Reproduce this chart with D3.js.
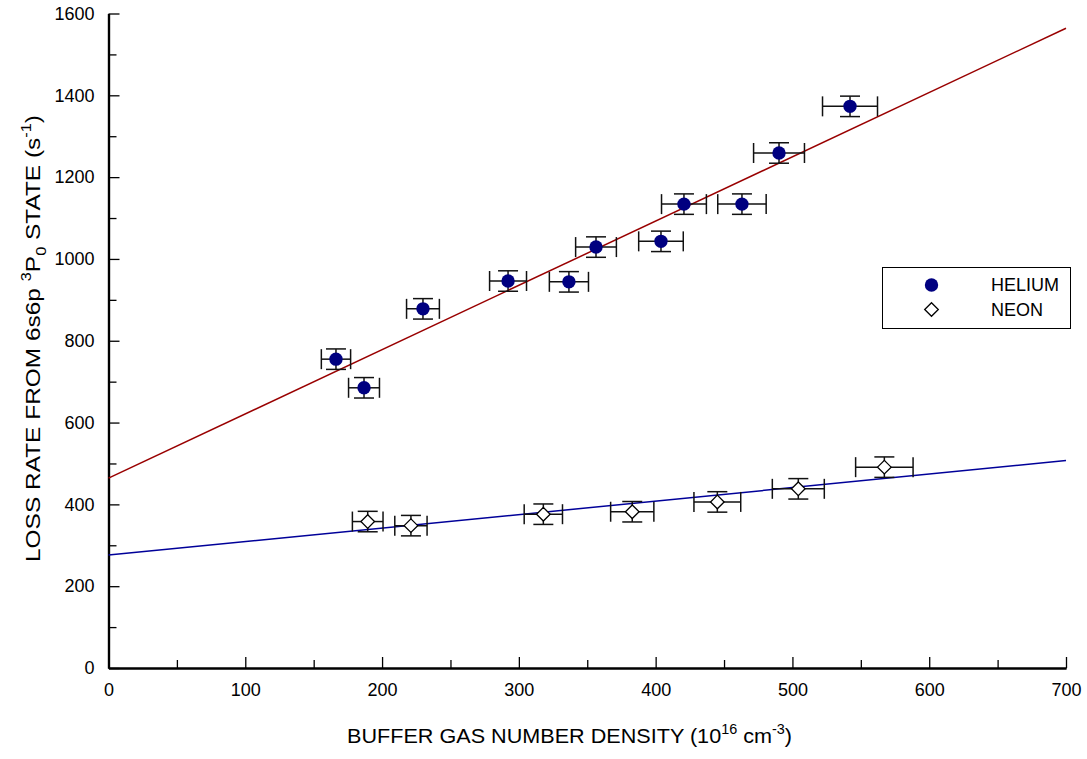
<!DOCTYPE html>
<html>
<head>
<meta charset="utf-8">
<script src="https://cdn.jsdelivr.net/npm/d3@7"></script>
<style>
  html, body { margin: 0; padding: 0; background: #fff; }
  svg { display: block; font-family: "Liberation Sans", Arial, sans-serif; }
</style>
</head>
<body>
<svg id="chart" width="1087" height="759"></svg>
<script>
// ---- Data ----
const heliumX   = [166.3, 186.8, 229.9, 292.1, 336.6, 356.4, 403.9, 420.7, 463.1, 490.2, 542.1];
const heliumY   = [755, 685, 878, 946, 944, 1029, 1043, 1134, 1134, 1259, 1373];
const heliumXErr = [10.7, 11.3, 12.0, 13.5, 14.3, 14.9, 16.3, 16.4, 17.7, 18.6, 20.1];
const heliumYErr = [25, 25, 25, 25, 25, 25, 25, 25, 25, 25, 25];

const neonX    = [189.5, 221.1, 317.9, 382.9, 445.1, 504.3, 567.2];
const neonY    = [358, 348, 376, 382, 406, 438, 491];
const neonXErr = [11.2, 11.8, 14.0, 15.8, 17.1, 19.0, 21.0];
const neonYErr = [25, 25, 25, 25, 25, 25, 25];

// Linear fit lines (endpoints at x = 0 and x = 700)
const heliumFitX = [0, 700];
const heliumFitY = [464, 1564];
const neonFitX   = [0, 700];
const neonFitY   = [276, 507];

const xMajorTicks = [0, 100, 200, 300, 400, 500, 600, 700];
const xMinorTicks = [50, 150, 250, 350, 450, 550, 650];
const yMajorTicks = [0, 200, 400, 600, 800, 1000, 1200, 1400, 1600];
const yMinorTicks = [100, 300, 500, 700, 900, 1100, 1300, 1500];

const legendLabels = ["HELIUM", "NEON"];

// ---- Layout ----
const svg = d3.select("#chart");
const x = d3.scaleLinear().domain([0, 700]).range([108.5, 1066]);
const y = d3.scaleLinear().domain([0, 1600]).range([668, 13.5]);
const fontSize = 18;
const titleSize = 21;

// Axes
const xAxisMajor = d3.axisBottom(x).tickValues(xMajorTicks).tickSizeInner(-11).tickSizeOuter(0).tickPadding(15).tickFormat(d3.format("d"));
const xAxisMinor = d3.axisBottom(x).tickValues(xMinorTicks).tickSizeInner(-8).tickSizeOuter(0).tickFormat("");
const yAxisMajor = d3.axisLeft(y).tickValues(yMajorTicks).tickSizeInner(-11).tickSizeOuter(0).tickPadding(14).tickFormat(d3.format("d"));
const yAxisMinor = d3.axisLeft(y).tickValues(yMinorTicks).tickSizeInner(-8).tickSizeOuter(0).tickFormat("");

function styleAxis(g) {
  g.selectAll(".domain").attr("stroke", "#000").attr("stroke-width", 2.2);
  g.selectAll(".tick line").attr("stroke", "#000").attr("stroke-width", 1.3);
  g.selectAll(".tick text").attr("font-size", fontSize).attr("fill", "#000")
    .attr("font-family", "'Liberation Sans', Arial, sans-serif");
}

const gx = svg.append("g").attr("transform", `translate(0,${y(0)})`);
gx.append("g").call(xAxisMinor).call(styleAxis);
gx.append("g").call(xAxisMajor).call(styleAxis);
const gy = svg.append("g").attr("transform", `translate(${x(0)},0)`);
gy.append("g").call(yAxisMinor).call(styleAxis);
gy.append("g").call(yAxisMajor).call(styleAxis);

// Fit lines
const line = d3.line().x(d => x(d[0])).y(d => y(d[1]));
svg.append("path").datum(d3.zip(heliumFitX, heliumFitY))
  .attr("d", line).attr("fill", "none").attr("stroke", "#990000").attr("stroke-width", 1.5);
svg.append("path").datum(d3.zip(neonFitX, neonFitY))
  .attr("d", line).attr("fill", "none").attr("stroke", "#000099").attr("stroke-width", 1.5);

// Error bars
const cap = 10;
function errorBars(xs, ys, xe, ye) {
  const g = svg.append("g").attr("stroke", "#111").attr("stroke-width", 1.5).attr("fill", "none");
  xs.forEach((xv, i) => {
    const cx = x(xv), cy = y(ys[i]);
    const x0 = x(xv - xe[i]), x1 = x(xv + xe[i]);
    const y0 = y(ys[i] - ye[i]), y1 = y(ys[i] + ye[i]);
    g.append("line").attr("x1", x0).attr("x2", x1).attr("y1", cy).attr("y2", cy);
    g.append("line").attr("x1", x0).attr("x2", x0).attr("y1", cy - cap).attr("y2", cy + cap);
    g.append("line").attr("x1", x1).attr("x2", x1).attr("y1", cy - cap).attr("y2", cy + cap);
    g.append("line").attr("x1", cx).attr("x2", cx).attr("y1", y0).attr("y2", y1);
    g.append("line").attr("x1", cx - cap).attr("x2", cx + cap).attr("y1", y0).attr("y2", y0);
    g.append("line").attr("x1", cx - cap).attr("x2", cx + cap).attr("y1", y1).attr("y2", y1);
  });
}
errorBars(heliumX, heliumY, heliumXErr, heliumYErr);
errorBars(neonX, neonY, neonXErr, neonYErr);

// Markers
const circleSym = d3.symbol().type(d3.symbolCircle).size(Math.PI * 6.7 * 6.7);
const diamondPath = (s) => `M0,${-s}L${s},0L0,${s}L${-s},0Z`;

svg.append("g").selectAll("path").data(d3.zip(heliumX, heliumY)).join("path")
  .attr("transform", d => `translate(${x(d[0])},${y(d[1])})`)
  .attr("d", circleSym).attr("fill", "#000080");

svg.append("g").selectAll("path").data(d3.zip(neonX, neonY)).join("path")
  .attr("transform", d => `translate(${x(d[0])},${y(d[1])})`)
  .attr("d", diamondPath(6.8)).attr("fill", "#fff").attr("stroke", "#000").attr("stroke-width", 1.3);

// Legend
const lg = svg.append("g");
lg.append("rect").attr("x", 882.5).attr("y", 267.5).attr("width", 188).attr("height", 61)
  .attr("fill", "#fff").attr("stroke", "#000").attr("stroke-width", 1);
lg.append("path").attr("transform", "translate(931.5,285)").attr("d", circleSym).attr("fill", "#000080");
lg.append("path").attr("transform", "translate(931.5,309.5)").attr("d", diamondPath(6.8))
  .attr("fill", "#fff").attr("stroke", "#000").attr("stroke-width", 1.3);
lg.selectAll("text").data(legendLabels).join("text")
  .attr("x", 991).attr("y", (d, i) => 285 + i * 24.5).attr("dy", "0.35em")
  .attr("font-size", fontSize).attr("fill", "#000").text(d => d);

// X axis title
const xt = svg.append("text").attr("x", 347).attr("y", 743)
  .attr("textLength", 445).attr("lengthAdjust", "spacingAndGlyphs")
  .attr("font-size", titleSize).attr("fill", "#000");
xt.append("tspan").text("BUFFER GAS NUMBER DENSITY (10");
xt.append("tspan").attr("dy", -9).attr("font-size", 14).text("16");
xt.append("tspan").attr("dy", 9).text(" cm");
xt.append("tspan").attr("dy", -9).attr("font-size", 14).text("-3");
xt.append("tspan").attr("dy", 9).text(")");

// Y axis title
const yt = svg.append("text").attr("transform", "translate(40,562) rotate(-90)")
  .attr("x", 0).attr("y", 0)
  .attr("textLength", 447).attr("lengthAdjust", "spacingAndGlyphs")
  .attr("font-size", titleSize).attr("fill", "#000");
yt.append("tspan").text("LOSS RATE FROM 6s6p ");
yt.append("tspan").attr("dy", -9).attr("font-size", 14).text("3");
yt.append("tspan").attr("dy", 9).text("P");
yt.append("tspan").attr("dy", 6).attr("font-size", 14).text("0");
yt.append("tspan").attr("dy", -6).text(" STATE (s");
yt.append("tspan").attr("dy", -9).attr("font-size", 14).text("-1");
yt.append("tspan").attr("dy", 9).text(")");
</script>
</body>
</html>
